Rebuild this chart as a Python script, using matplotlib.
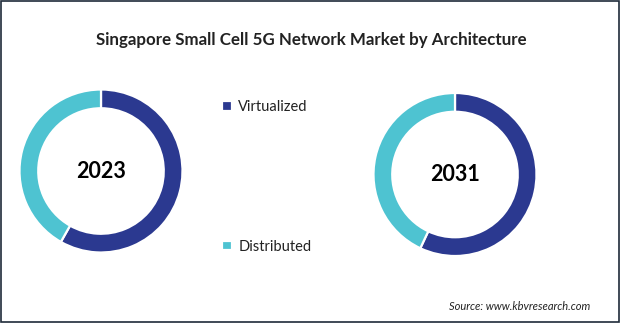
import matplotlib
matplotlib.use("Agg")
import matplotlib.pyplot as plt
from matplotlib.patches import Rectangle

plt.rcParams['font.family'] = ['Lato', 'DejaVu Sans']

categories = ["Virtualized", "Distributed"]
years = ["2023", "2031"]
share_2023 = [58.2, 41.8]
share_2031 = [57.0, 43.0]
colors = ["#2B3990", "#4EC3D1"]

W, H = 620, 323
fig = plt.figure(figsize=(W / 100, H / 100), dpi=100)

# outer frame
fig.patches.append(Rectangle((0.001, 0.002), 0.997, 0.995, transform=fig.transFigure,
                             fill=False, edgecolor="#1f2b3a", linewidth=1.2))

fig.text(311 / W, 1 - 40 / H, "Singapore Small Cell 5G Network Market by Architecture",
         ha="center", va="center", fontsize=12.2, fontweight="bold", color="#222222")

def donut(cx, cy, r, values, year):
    ax = fig.add_axes([(cx - r) / W, (H - cy - r) / H, 2 * r / W, 2 * r / H])
    wedges, _ = ax.pie(values, colors=colors, startangle=90, counterclock=False, radius=1,
                       wedgeprops=dict(width=0.23, edgecolor="white", linewidth=1.6))
    ax.set_xlim(-1, 1)
    ax.set_ylim(-1, 1)
    ax.text(0, 0, year, ha="center", va="center", fontsize=15.5, fontweight="bold", color="black")
    return wedges

wedges = donut(101, 171, 81.5, share_2023, years[0])
donut(455, 174.5, 81.5, share_2031, years[1])

fig.legend(wedges, categories, loc="upper left", bbox_to_anchor=(209 / W, 1 - 87 / H),
           frameon=False, fontsize=10.5, handlelength=0.65, handleheight=0.65,
           handletextpad=0.45, labelspacing=8.6, labelcolor="#222222")

fig.text(590 / W, 1 - 307 / H, "Source: www.kbvresearch.com", ha="right", va="center",
         fontsize=8, style="italic", color="#222222")

fig.savefig("out.png", dpi=100)
